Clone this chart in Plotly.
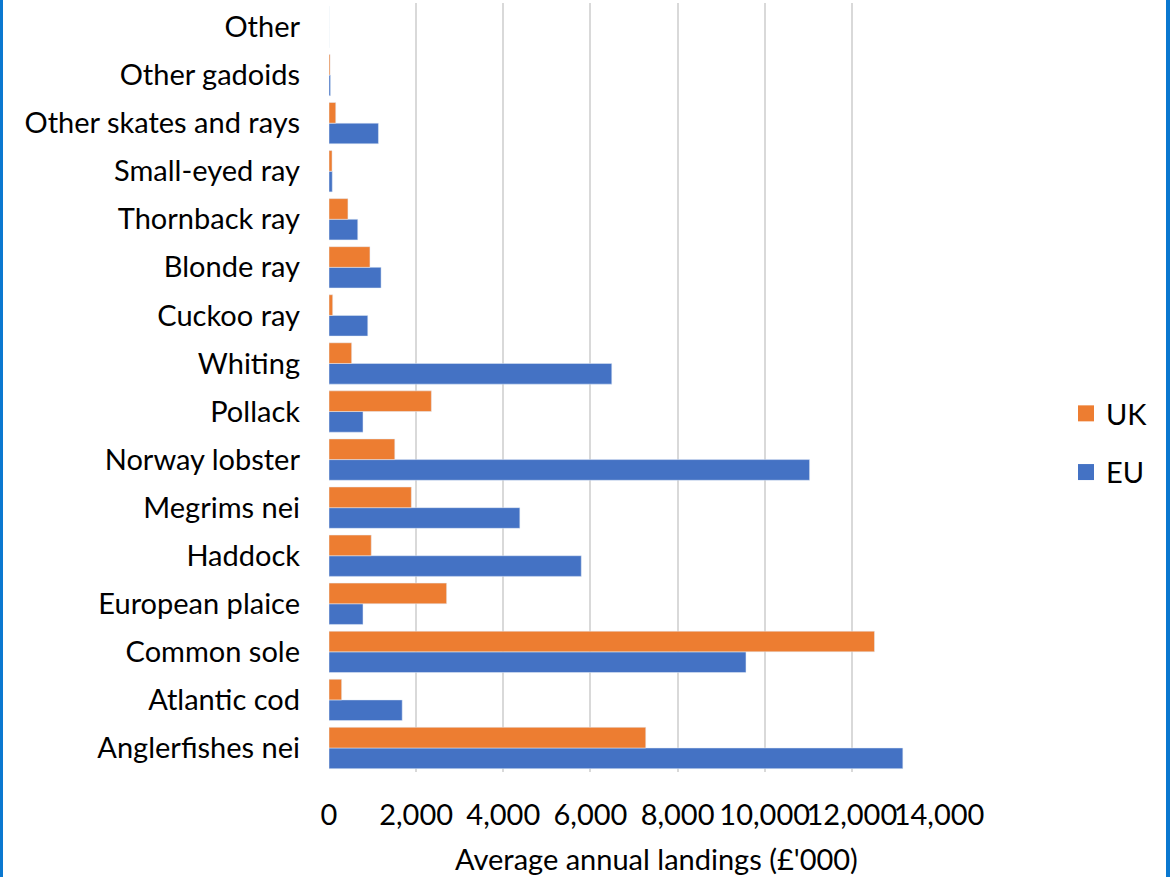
import plotly.graph_objects as go

# Species, listed from the bottom of the chart upwards
species = [
    "Anglerfishes nei", "Atlantic cod", "Common sole", "European plaice",
    "Haddock", "Megrims nei", "Norway lobster", "Pollack", "Whiting",
    "Cuckoo ray", "Blonde ray", "Thornback ray", "Small-eyed ray",
    "Other skates and rays", "Other gadoids", "Other",
]

# Average annual landings, £'000
uk_landings = [7270, 290, 12520, 2700, 970, 1890, 1510, 2350, 520,
               85, 940, 435, 70, 155, 25, 0]
eu_landings = [13170, 1680, 9570, 780, 5790, 4380, 11030, 780, 6490,
               890, 1195, 660, 75, 1135, 35, 0]

x_ticks = [0, 2000, 4000, 6000, 8000, 10000, 12000, 14000]

UK_COLOR = "#ED7D31"
EU_COLOR = "#4472C4"
BORDER_COLOR = "#0A78D0"
FONT = "Lato"
FS = 29

W, H = 1170, 877
ML, MR, MT, MB = 329, 231, 3, 105
PW, PH = W - ML - MR, H - MT - MB


def px_x(px):
    return (px - ML) / PW


def px_y(py):
    return (H - MB - py) / PH


fig = go.Figure()

# EU first so that UK sits above it within each pair
fig.add_trace(go.Bar(y=species, x=eu_landings, orientation="h",
                     name="EU", marker_color=EU_COLOR, showlegend=False))
fig.add_trace(go.Bar(y=species, x=uk_landings, orientation="h",
                     name="UK", marker_color=UK_COLOR, showlegend=False))

# Legend entries with square swatches
for name, color in [("UK", UK_COLOR), ("EU", EU_COLOR)]:
    fig.add_trace(go.Scatter(x=[None], y=[None], mode="markers", name=name,
                             legendgroup=name,
                             marker=dict(symbol="square", size=16, color=color)))

fig.update_layout(
    width=W, height=H,
    margin=dict(l=ML, r=MR, t=MT, b=MB),
    paper_bgcolor="white", plot_bgcolor="white",
    barmode="group", bargap=0.14, bargroupgap=0,
    font=dict(family=FONT, size=FS, color="black"),
    xaxis=dict(
        range=[0, 14000], tickvals=x_ticks, tickformat=",d",
        tickangle=0,
        showgrid=True, gridcolor="#D9D9D9", gridwidth=1.5,
        zeroline=False, showline=False, ticks="",
        ticklabelstandoff=23,
        tickfont=dict(family=FONT, size=FS, color="black"),
    ),
    yaxis=dict(
        type="category", categoryorder="array", categoryarray=species,
        showgrid=False, zeroline=False, showline=False, ticks="",
        ticklabelstandoff=28,
        tickfont=dict(family=FONT, size=FS, color="black"),
    ),
    legend=dict(
        x=px_x(1066), y=px_y(443), xanchor="left", yanchor="middle",
        bgcolor="rgba(0,0,0,0)", tracegroupgap=18,
        font=dict(family=FONT, size=FS, color="black"),
    ),
    annotations=[dict(
        text="Average annual landings (£'000)", xref="paper", yref="paper",
        x=px_x(656), y=px_y(858), xanchor="center", yanchor="middle",
        showarrow=False, font=dict(family=FONT, size=FS, color="black"),
    )],
    shapes=[
        dict(type="rect", xref="paper", yref="paper",
             x0=px_x(0), x1=px_x(3), y0=px_y(H), y1=px_y(0),
             fillcolor=BORDER_COLOR, line_width=0, layer="above"),
        dict(type="rect", xref="paper", yref="paper",
             x0=px_x(1166), x1=px_x(1170), y0=px_y(H), y1=px_y(0),
             fillcolor=BORDER_COLOR, line_width=0, layer="above"),
    ],
)

fig.write_html("out.html")
